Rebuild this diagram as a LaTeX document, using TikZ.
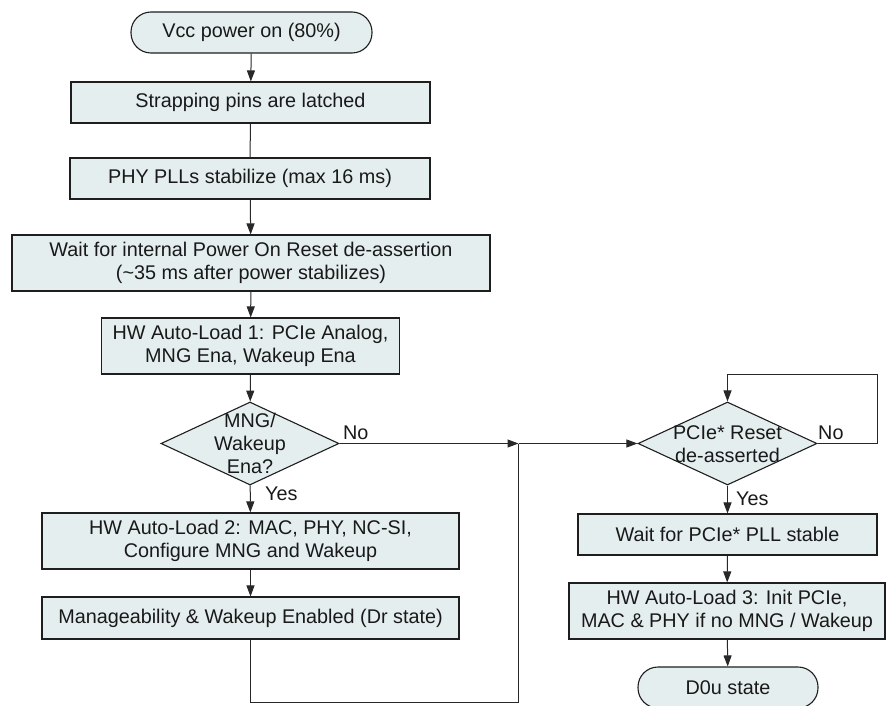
\documentclass[tikz,border=0pt]{standalone}
\usepackage{fontspec}
\setmainfont{Liberation Sans}
\usetikzlibrary{shapes.geometric,arrows.meta}
\definecolor{boxfill}{RGB}{229,238,238}
\definecolor{boxdraw}{RGB}{30,30,30}
\definecolor{txt}{RGB}{25,25,25}
\definecolor{conn}{RGB}{40,40,40}
\begin{document}
\begin{tikzpicture}[x=1pt,y=-1pt,
  every node/.style={text=txt, font=\fontsize{19.8}{22.5}\selectfont},
  procbox/.style={draw=boxdraw, fill=boxfill, line width=1.1pt, inner sep=0pt, align=center},
  termbox/.style={procbox, rounded corners=20pt},
  decbox/.style={diamond, draw=boxdraw, fill=boxfill, line width=1.1pt, inner sep=0pt},
  lbl/.style={inner sep=0pt, anchor=west},
  link/.style={draw=conn, line width=1pt},
  arr/.style={link, -{Triangle[length=11pt,width=8pt]}}]
\useasboundingbox (0,0) rectangle (889,706);

\node[termbox, minimum width=241, minimum height=41] (vcc) at (251.5,32.5) {Vcc power on (80\%)};
\node[procbox, minimum width=359, minimum height=41] (strap) at (250.5,102.5) {Strapping pins are latched};
\node[procbox, minimum width=360, minimum height=41] (phy) at (250,178.5) {PHY PLLs stabilize (max 16 ms)};
\node[procbox, minimum width=478, minimum height=56] (por) at (251,263) {Wait for internal Power On Reset de-assertion\\(\textasciitilde35 ms after power stabilizes)};
\node[procbox, minimum width=298, minimum height=56] (hw1) at (250.5,346) {HW Auto-Load 1: PCIe Analog,\\MNG Ena, Wakeup Ena};
\node[decbox, minimum width=178, minimum height=83] (d1) at (250,443.5) {};
\node[align=center, inner sep=0pt, font=\fontsize{19.8}{23}\selectfont] (d1t) at (250,443.5) {MNG/\\Wakeup\\Ena?};
\node[procbox, minimum width=417, minimum height=56] (hw2) at (250.5,541) {HW Auto-Load 2: MAC, PHY, NC-SI,\\Configure MNG and Wakeup};
\node[procbox, minimum width=417, minimum height=42] (mg) at (250.5,618) {Manageability \& Wakeup Enabled (Dr state)};

\node[decbox, minimum width=179, minimum height=83] (d2) at (727.5,443.5) {};
\node[align=center, inner sep=0pt] (d2t) at (727.5,444) {PCIe* Reset\\de-asserted};
\node[procbox, minimum width=299, minimum height=41] (pll) at (727.5,534.5) {Wait for PCIe* PLL stable};
\node[procbox, minimum width=316, minimum height=56] (hw3) at (727,611) {HW Auto-Load 3: Init PCIe,\\MAC \& PHY if no MNG / Wakeup};
\node[termbox, minimum width=180, minimum height=41] (d0u) at (728,687.5) {D0u state};

\coordinate (j) at (518.5,443.5);
\coordinate (loopr) at (877,374);

\draw[arr] (vcc) -- (strap);
\draw[link] (strap) -- (phy);
\draw[arr] (phy) -- (por);
\draw[arr] (por) -- (hw1);
\draw[arr] (hw1) -- (d1);
\draw[arr] (d1) -- (hw2);
\draw[arr] (hw2) -- (mg);
\draw[arr] (d1.east) -- (j);
\draw[link] (mg.south) -- ++(0,63) -| (j);
\draw[arr] (j) -- (d2.west);
\draw[arr] (d2.east) -| (loopr) -| (d2.north);
\draw[arr] (d2) -- (pll);
\draw[arr] (pll) -- (hw3);
\draw[arr] (hw3) -- (d0u);

\node[lbl] (no1) at (343,433) {No};
\node[lbl] (yes1) at (265,494) {Yes};
\node[lbl] (no2) at (818,433) {No};
\node[lbl] (yes2) at (736,499) {Yes};
\end{tikzpicture}
\end{document}
